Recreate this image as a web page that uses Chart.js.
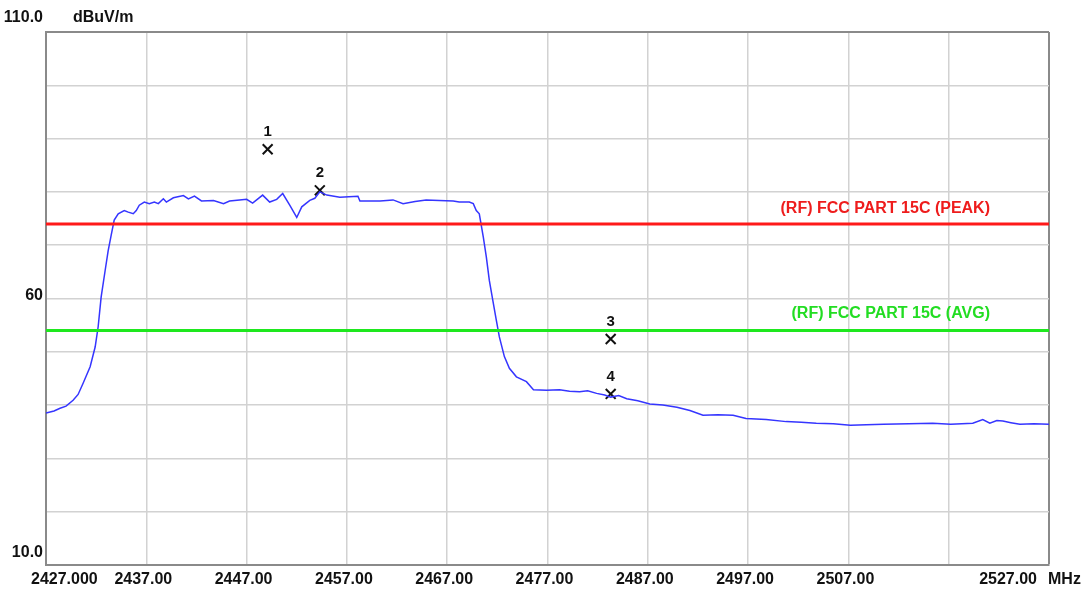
<!DOCTYPE html>
<html>
<head>
<meta charset="utf-8">
<script src="https://cdn.jsdelivr.net/npm/chart.js@4.4.1/dist/chart.umd.min.js"></script>
<style>
  html, body { margin: 0; padding: 0; background: #ffffff; }
  #wrap { width: 1090px; height: 590px; }
</style>
</head>
<body>
<div id="wrap"><canvas id="c" width="1090" height="590"></canvas></div>
<script>
// ---- data ----
const freqs = [2427.0,2427.8,2428.4,2429.0,2429.7,2430.2,2430.7,2431.4,2431.9,2432.2,2432.5,2432.9,2433.2,2433.5,2433.8,2434.2,2434.8,2435.2,2435.7,2436.0,2436.3,2436.8,2437.3,2437.8,2438.2,2438.7,2439.0,2439.7,2440.7,2441.2,2441.8,2442.5,2443.7,2444.7,2445.3,2446.3,2447.0,2447.6,2448.6,2449.3,2450.0,2450.6,2451.3,2452.0,2452.5,2453.3,2453.8,2454.3,2455.0,2456.3,2457.2,2458.1,2458.3,2460.3,2461.6,2462.6,2463.8,2464.9,2466.2,2467.6,2468.2,2469.2,2469.6,2469.9,2470.2,2470.6,2470.9,2471.2,2471.6,2471.9,2472.2,2472.7,2473.2,2473.9,2474.9,2475.6,2476.9,2478.2,2479.2,2480.2,2481.0,2481.9,2482.7,2483.3,2484.1,2484.9,2486.0,2487.2,2488.5,2489.9,2491.2,2492.5,2494.0,2495.5,2496.8,2498.8,2500.8,2502.3,2503.8,2505.5,2507.2,2508.8,2510.5,2513.0,2515.4,2517.2,2519.4,2520.4,2521.1,2521.8,2522.4,2523.2,2524.1,2525.5,2527.0];
const levels = [38.5,38.9,39.4,39.8,40.9,42.0,44.1,47.2,50.9,54.7,60.3,65.3,69.0,71.9,74.7,75.9,76.5,76.2,75.9,76.5,77.5,78.1,77.8,78.1,77.8,78.7,78.1,78.9,79.3,78.7,79.2,78.3,78.4,77.8,78.3,78.5,78.6,77.9,79.4,78.1,78.6,79.7,77.5,75.2,77.2,78.4,78.8,80.0,79.4,79.0,79.1,79.2,78.3,78.3,78.5,77.8,78.2,78.5,78.4,78.3,78.1,78.1,77.8,76.5,75.9,71.5,67.8,63.4,59.1,55.9,52.8,49.1,46.9,45.3,44.4,42.9,42.8,42.9,42.6,42.5,42.7,42.2,41.9,41.5,41.8,41.2,40.8,40.2,40.0,39.6,39.0,38.1,38.2,38.1,37.5,37.3,36.9,36.8,36.6,36.5,36.2,36.3,36.4,36.5,36.6,36.4,36.6,37.3,36.6,37.1,37.0,36.7,36.4,36.5,36.4];

const peakLimit = 74;
const avgLimit = 54;
const peakLimitLabel = "(RF) FCC PART 15C (PEAK)";
const avgLimitLabel = "(RF) FCC PART 15C (AVG)";

const markerFreqs = [2449.1, 2454.3, 2483.3, 2483.3];
const markerLevels = [88.0, 80.3, 52.4, 42.1];
const markerLabels = ["1", "2", "3", "4"];

const xTickValues = [2427, 2437, 2447, 2457, 2467, 2477, 2487, 2497, 2507, 2527];
const xTickLabels = ["2427.000", "2437.00", "2447.00", "2457.00", "2467.00", "2477.00", "2487.00", "2497.00", "2507.00", "2527.00"];
const xUnit = "MHz";
const yTickValues = [110, 60, 10];
const yTickLabels = ["110.0", "60", "10.0"];
const yUnit = "dBuV/m";
const xMin = 2427, xMax = 2527, yMin = 10, yMax = 110;

// ---- build ----
const trace = freqs.map((f, i) => ({ x: f, y: levels[i] }));
const peakLine = [{ x: xMin, y: peakLimit }, { x: xMax, y: peakLimit }];
const avgLine = [{ x: xMin, y: avgLimit }, { x: xMax, y: avgLimit }];
const markers = markerFreqs.map((f, i) => ({ x: f, y: markerLevels[i] }));

const FONT = '"Liberation Sans", Arial, sans-serif';

const textPlugin = {
  id: 'texts',
  afterDraw(chart) {
    const ctx = chart.ctx;
    const xs = chart.scales.x, ys = chart.scales.y;
    ctx.save();
    ctx.fillStyle = '#111';
    ctx.font = 'bold 16px ' + FONT;
    ctx.textBaseline = 'alphabetic';
    // x tick labels
    xTickValues.forEach((v, i) => {
      const px = xs.getPixelForValue(v);
      if (i === 0) { ctx.textAlign = 'left'; ctx.fillText(xTickLabels[i], px - 15, 584); }
      else if (i === xTickValues.length - 1) { ctx.textAlign = 'right'; ctx.fillText(xTickLabels[i], px - 12, 584); }
      else { ctx.textAlign = 'center'; ctx.fillText(xTickLabels[i], px - 3, 584); }
    });
    ctx.textAlign = 'left';
    ctx.fillText(xUnit, xs.right - 1, 584);
    // y tick labels
    const yOff = [-10, 1, -8];
    yTickValues.forEach((v, i) => {
      const py = ys.getPixelForValue(v);
      ctx.textAlign = 'right';
      ctx.fillText(yTickLabels[i], xs.left - 3, py + yOff[i]);
    });
    ctx.textAlign = 'left';
    ctx.fillText(yUnit, 73, ys.getPixelForValue(yMax) - 10);
    // limit labels
    ctx.textAlign = 'right';
    ctx.fillStyle = '#ee1c1c';
    ctx.fillText(peakLimitLabel, 990, ys.getPixelForValue(peakLimit) - 11);
    ctx.fillStyle = '#22dd22';
    ctx.fillText(avgLimitLabel, 990, ys.getPixelForValue(avgLimit) - 12);
    // marker numbers
    ctx.font = 'bold 15px ' + FONT;
    ctx.fillStyle = '#111';
    ctx.textAlign = 'center';
    const meta = chart.getDatasetMeta(3);
    meta.data.forEach((pt, i) => {
      ctx.fillText(markerLabels[i], pt.x, pt.y - 13);
    });
    ctx.restore();
  }
};

new Chart(document.getElementById('c'), {
  type: 'scatter',
  data: {
    datasets: [
      { data: avgLine, showLine: true, borderColor: '#1ee81e', borderWidth: 3, pointRadius: 0 },
      { data: peakLine, showLine: true, borderColor: '#ff1a1a', borderWidth: 3, pointRadius: 0 },
      { data: trace, showLine: true, borderColor: '#3535ff', borderWidth: 1.5, pointRadius: 0, tension: 0 },
      { data: markers, showLine: false, pointStyle: 'crossRot', pointRadius: 7, borderColor: '#111', borderWidth: 2, backgroundColor: '#111' }
    ]
  },
  options: {
    responsive: false,
    animation: false,
    devicePixelRatio: 1,
    layout: { padding: { left: 46, right: 41, top: 32, bottom: 25 } },
    plugins: { legend: { display: false }, tooltip: { enabled: false } },
    scales: {
      x: {
        type: 'linear', min: xMin, max: xMax,
        ticks: { display: false, stepSize: 10 },
        grid: {
          drawTicks: false,
          color: (c) => (c.tick && c.tick.value === xMax) ? '#8a8a8a' : '#d2d2d2',
          lineWidth: (c) => (c.tick && c.tick.value === xMax) ? 2 : 1.5
        },
        border: { display: true, color: '#8a8a8a', width: 2 }
      },
      y: {
        type: 'linear', min: yMin, max: yMax,
        ticks: { display: false, stepSize: 10 },
        grid: {
          drawTicks: false,
          color: (c) => (c.tick && c.tick.value === yMax) ? '#8a8a8a' : '#d2d2d2',
          lineWidth: (c) => (c.tick && c.tick.value === yMax) ? 2 : 1.5
        },
        border: { display: true, color: '#8a8a8a', width: 2 }
      }
    }
  },
  plugins: [textPlugin]
});
</script>
</body>
</html>
